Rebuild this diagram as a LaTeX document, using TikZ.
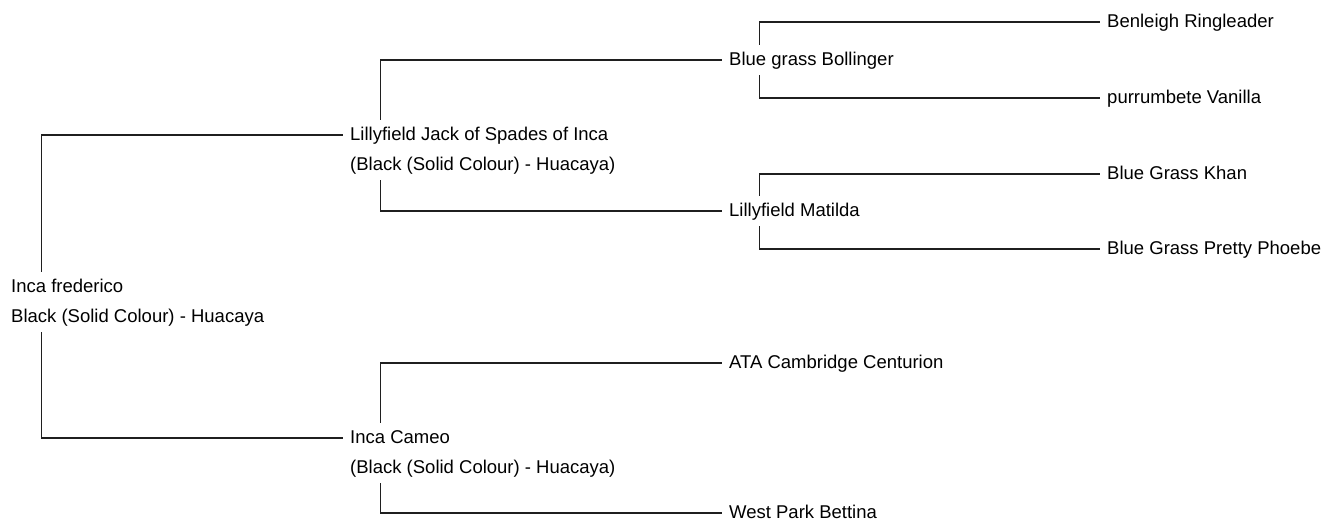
\documentclass[tikz,border=0pt]{standalone}
\usepackage{fontspec}
\setmainfont{Liberation Sans}
\begin{document}
\begin{tikzpicture}[x=1pt,y=-1pt,
  person/.style={anchor=west, inner xsep=7.5pt, inner ysep=9.3pt,
    text height=11.4pt, text depth=0pt, font=\fontsize{18.5}{22}\selectfont, text=black},
  link/.style={draw=black!88, line width=1.3pt}]
\useasboundingbox (0,0) rectangle (1325,519);
% generation 0
\node[person] (root)  at (3.5,287) {Inca frederico};
\node[person] (rootc) at (3.5,317) {Black (Solid Colour) - Huacaya};
% generation 1
\node[person] (jack)   at (342.5,135) {Lillyfield Jack of Spades of Inca};
\node[person] (jackc)  at (342.5,165) {(Black (Solid Colour) - Huacaya)};
\node[person] (cameo)  at (342.5,438) {Inca Cameo};
\node[person] (cameoc) at (342.5,468) {(Black (Solid Colour) - Huacaya)};
% generation 2
\node[person] (bollinger) at (721.5,60)  {Blue grass Bollinger};
\node[person] (matilda)   at (721.5,211) {Lillyfield Matilda};
\node[person] (ata)       at (721.5,363) {ATA Cambridge Centurion};
\node[person] (bettina)   at (721.5,513) {West Park Bettina};
% generation 3
\node[person] (benleigh) at (1099.5,22)  {Benleigh Ringleader};
\node[person] (vanilla)  at (1099.5,98)  {purrumbete Vanilla};
\node[person] (khan)     at (1099.5,174) {Blue Grass Khan};
\node[person] (phoebe)   at (1099.5,249) {Blue Grass Pretty Phoebe};
% connectors
\draw[link] ([xshift=38pt]root.north west) |- (jack.west);
\draw[link] ([xshift=38pt]rootc.south west) |- (cameo.west);
\draw[link] ([xshift=38pt]jack.north west) |- (bollinger.west);
\draw[link] ([xshift=38pt]jackc.south west) |- (matilda.west);
\draw[link] ([xshift=38pt]cameo.north west) |- (ata.west);
\draw[link] ([xshift=38pt]cameoc.south west) |- (bettina.west);
\draw[link] ([xshift=38pt]bollinger.north west) |- (benleigh.west);
\draw[link] ([xshift=38pt]bollinger.south west) |- (vanilla.west);
\draw[link] ([xshift=38pt]matilda.north west) |- (khan.west);
\draw[link] ([xshift=38pt]matilda.south west) |- (phoebe.west);
\end{tikzpicture}
\end{document}
